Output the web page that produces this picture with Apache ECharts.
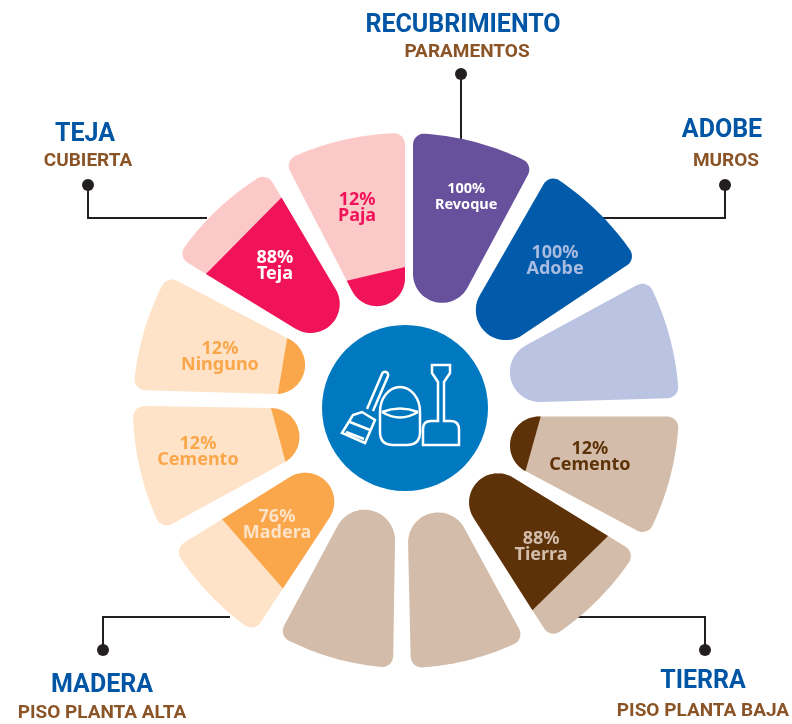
<!DOCTYPE html>
<html>
<head>
<meta charset="utf-8">
<title>Materiales</title>
<script src="https://cdn.jsdelivr.net/npm/echarts@6/dist/echarts.min.js"></script>
<style>
  html, body { margin: 0; padding: 0; background: #fff; }
  #main { width: 792px; height: 724px; }
</style>
</head>
<body>
<div id="main"></div>
<script>
// petals clockwise from the top
var petalNames = ['Revoque', 'Adobe', '', 'Cemento', 'Tierra', '', '', 'Madera', 'Cemento', 'Ninguno', 'Teja', 'Paja'];
var petalShares = [100, 100, null, 12, 88, null, null, 76, 12, 12, 88, 12];
var groupTitles = ['RECUBRIMIENTO', 'ADOBE', 'TIERRA', 'MADERA', 'TEJA'];
var groupSubtitles = ['PARAMENTOS', 'MUROS', 'PISO PLANTA BAJA', 'PISO PLANTA ALTA', 'CUBIERTA'];

var baseColors = ['#67509C', '#015BAA', '#BAC4E2', '#D3BDAA', '#D3BDAA', '#D3BDAA', '#D3BDAA', '#FEE3C8', '#FEE3C8', '#FEE3C8', '#FCC9C9', '#FCC9C9'];
var fillColors = ['#67509C', '#015BAA', null, '#5D3208', '#5D3208', null, null, '#FAA74C', '#FAA74C', '#FAA74C', '#F1135A', '#F1135A'];
var textColors = ['#fff', '#A9BBE0', null, '#5D3208', '#D3BDAA', null, null, '#FEE3C8', '#FAA74C', '#FAA74C', '#fff', '#F1135A'];

// petal outlines: [start edge angle, start edge offset, end edge angle, end edge offset]
var edges = [
  [0, 8, 28.2, -1.8], [29.9, 8.6, 56.3, 4.5], [61.5, 2.7, 88.3, -2], [90, 8.5, 118, -0.8],
  [121.6, 2.6, 147.5, 1.2], [151.5, 5.1, 178.7, 0], [180.9, 7.9, 208.2, 3.7], [213.3, 2.9, 238.2, 1.9],
  [241.3, 10.2, 270.9, -2.1], [271.6, 10.4, 297.5, 7.6], [301.4, 10.7, 329.4, 0.8], [332.6, 6.9, 360, 0]
];
var reach = [275, 275, 274, 274, 272, 260, 260, 270, 272, 272, 273, 275];
var rounding = [29, 30, 30, 29, 29, 30, 30.5, 29, 29, 29, 29, 28];
// where the darker part stops on each edge (radius)
var splitAt = [null, null, null, [136, 136], [240, 239], null, null, [218, 214], [131, 134], [128, 137], [240, 244], [140, 141]];
var labelSpots = [[220.6, 16.1], [210.7, 45.4], null, [191, 104.5], [193.8, 135.4], null, null, [172.8, 227.8], [211.4, 258.3], [192.2, 285.7], [193.3, 317.7], [206.7, 346.6]];
var labelSizes = [14.5, 18, 0, 18, 18, 0, 0, 18, 18, 18, 18, 18];

var CX = 405, CY = 408, CORNER = 11;
var rad = Math.PI / 180;

function dirOf(a) { return [Math.sin(a * rad), -Math.cos(a * rad)]; }
function normOf(a) { return [Math.cos(a * rad), Math.sin(a * rad)]; }

function arc(c, r, from, to, n) {
  var a0 = Math.atan2(from[1] - c[1], from[0] - c[0]);
  var a1 = Math.atan2(to[1] - c[1], to[0] - c[0]);
  var d = a1 - a0;
  while (d > Math.PI) d -= 2 * Math.PI;
  while (d < -Math.PI) d += 2 * Math.PI;
  var pts = [];
  for (var k = 0; k <= n; k++) {
    var t = a0 + d * k / n;
    pts.push([c[0] + r * Math.cos(t), c[1] + r * Math.sin(t)]);
  }
  return pts;
}

function onEdge(a, p, r) {
  var n = normOf(a), d = dirOf(a), t = Math.sqrt(r * r - p * p);
  return [p * n[0] + t * d[0], p * n[1] + t * d[1]];
}

// outline of one petal, in pixels around the centre
function petalOutline(i) {
  var e = edges[i], a1 = e[0], p1 = e[1], a2 = e[2], p2 = e[3], R = reach[i], round = rounding[i];
  var half = (a2 - a1) / 2, mid = (a1 + a2) / 2;
  var n1 = normOf(a1), n2 = normOf(a2), d1 = dirOf(a1), d2 = dirOf(a2), db = dirOf(mid);
  // apex where the two edges meet
  var det = n1[0] * n2[1] - n1[1] * n2[0];
  var apex = [(p1 * n2[1] - p2 * n1[1]) / det, (n1[0] * p2 - n2[0] * p1) / det];
  var reachIn = round / Math.tan(half * rad), dist = round / Math.sin(half * rad);
  var hub = [apex[0] + db[0] * dist, apex[1] + db[1] * dist];
  var t1 = [apex[0] + d1[0] * reachIn, apex[1] + d1[1] * reachIn];
  var t2 = [apex[0] + d2[0] * reachIn, apex[1] + d2[1] * reachIn];
  var c1 = onEdge(a1, p1 + CORNER, R - CORNER);
  var c2 = onEdge(a2, p2 - CORNER, R - CORNER);
  var e1 = [c1[0] - CORNER * n1[0], c1[1] - CORNER * n1[1]];
  var e2 = [c2[0] + CORNER * n2[0], c2[1] + CORNER * n2[1]];
  var s1 = R / Math.hypot(c1[0], c1[1]), s2 = R / Math.hypot(c2[0], c2[1]);
  var o1 = [c1[0] * s1, c1[1] * s1], o2 = [c2[0] * s2, c2[1] * s2];
  return [t1, e1].concat(arc(c1, CORNER, e1, o1, 8), arc([0, 0], R, o1, o2, 24), arc(c2, CORNER, o2, e2, 8), [t2], arc(hub, round, t2, t1, 32));
}

// keep the part of the outline on the centre side of the split line
function clipToSplit(pts, a, b) {
  function side(q) { return (b[0] - a[0]) * (q[1] - a[1]) - (b[1] - a[1]) * (q[0] - a[0]); }
  var sign = side([0, 0]) > 0 ? 1 : -1, out = [];
  for (var k = 0; k < pts.length; k++) {
    var p = pts[k], q = pts[(k + 1) % pts.length];
    var sp = side(p) * sign, sq = side(q) * sign;
    if (sp >= 0) out.push(p);
    if (sp * sq < 0) {
      var t = sp / (sp - sq);
      out.push([p[0] + (q[0] - p[0]) * t, p[1] + (q[1] - p[1]) * t]);
    }
  }
  return out;
}

function renderPetal(params, api) {
  var i = params.dataIndex;
  function toScreen(q) {
    var ang = Math.atan2(q[0], -q[1]) / rad;
    return api.coord([Math.hypot(q[0], q[1]), (ang + 360) % 360]);
  }
  var outline = petalOutline(i);
  var kids = [{
    type: 'polygon',
    shape: { points: outline.map(toScreen) },
    style: { fill: baseColors[i] }
  }];
  if (splitAt[i]) {
    var e = edges[i];
    var a = onEdge(e[0], e[1], splitAt[i][0]);
    var b = onEdge(e[2], e[3], splitAt[i][1]);
    kids.push({
      type: 'polygon',
      shape: { points: clipToSplit(outline, a, b).map(toScreen) },
      style: { fill: fillColors[i] }
    });
  }
  if (petalShares[i] !== null) {
    var spot = api.coord(labelSpots[i]);
    kids.push({
      type: 'text',
      style: {
        text: petalShares[i] + '%\n' + petalNames[i],
        x: spot[0], y: spot[1] + 1,
        fill: textColors[i],
        font: 'bold ' + labelSizes[i] + 'px "Noto Sans"',
        lineHeight: 16,
        align: 'center',
        verticalAlign: 'middle'
      }
    });
  }
  return { type: 'group', children: kids };
}

// broom, bucket, shovel
var ICON = 'M373 411 L388 376 A3 3 0 0 0 382 374 L367 409 ' +
  'M342 433 L353 415 L362 412 L375 420 L365 443 Z ' +
  'M350 422 L370 430 M346 432 L364 439 ' +
  'M380 412 V432 Q380 445 393 445 H407 Q420 445 420 432 V412 A20 25 0 0 0 380 412 Z ' +
  'M382 412 Q400 405 418 412 M382 412 Q400 423 418 412 ' +
  'M432 365 H450 V373 L444 382 V421 H451 Q459 421 459 430 V445 H423 V429 Q423 421 431 421 H438 V382 L432 373 Z';

function renderIcon() {
  return {
    type: 'path',
    shape: { pathData: ICON, x: 342, y: 365, width: 117, height: 80, layout: 'cover' },
    style: { stroke: '#fff', lineWidth: 2.5, fill: null }
  };
}

// leader lines and headings
var INK = '#231F20', BLUE = '#0056A4', BROWN = '#8A5427';
var leaders = [
  [[461, 74], [461, 140]],
  [[725, 185], [725, 218], [603, 218]],
  [[705, 650], [705, 617], [578, 617]],
  [[103, 650], [103, 617], [230, 617]],
  [[88, 185], [88, 218], [207, 218]]
];
var titleSpots = [[463, 26], [722, 131], [703, 682], [102, 686], [85, 135]];
var subtitleSpots = [[467, 52], [726, 161], [703, 711], [102, 713], [88, 161]];

var graphics = [{
  type: 'circle', z: -1, shape: { cx: CX, cy: CY, r: 83 }, style: { fill: '#0079C1' }
}];
leaders.forEach(function (line) {
  graphics.push({ type: 'polyline', z: -1, shape: { points: line }, style: { stroke: INK, lineWidth: 2, fill: null } });
  graphics.push({ type: 'circle', z: -1, shape: { cx: line[0][0], cy: line[0][1], r: 6 }, style: { fill: INK } });
});
groupTitles.forEach(function (t, i) {
  graphics.push({ type: 'text', style: { text: t, x: titleSpots[i][0], y: titleSpots[i][1], fill: BLUE, font: 'bold 25px Roboto', align: 'center', verticalAlign: 'middle' } });
  graphics.push({ type: 'text', style: { text: groupSubtitles[i], x: subtitleSpots[i][0], y: subtitleSpots[i][1], fill: BROWN, font: 'bold 19px Roboto', align: 'center', verticalAlign: 'middle' } });
});

var chart = echarts.init(document.getElementById('main'), null, { renderer: 'canvas' });
chart.setOption({
  animation: false,
  polar: { center: [CX, CY], radius: 300 },
  angleAxis: { type: 'value', min: 0, max: 360, startAngle: 90, clockwise: true, show: false },
  radiusAxis: { type: 'value', min: 0, max: 300, show: false },
  graphic: graphics,
  series: [{
    type: 'custom',
    coordinateSystem: 'polar',
    silent: true,
    renderItem: renderPetal,
    data: petalShares.map(function (s, i) { return [reach[i], (i + 0.5) * 30, s]; })
  }, {
    type: 'custom',
    coordinateSystem: 'none',
    silent: true,
    z: 5,
    renderItem: renderIcon,
    data: [[0]]
  }]
});
</script>
</body>
</html>
